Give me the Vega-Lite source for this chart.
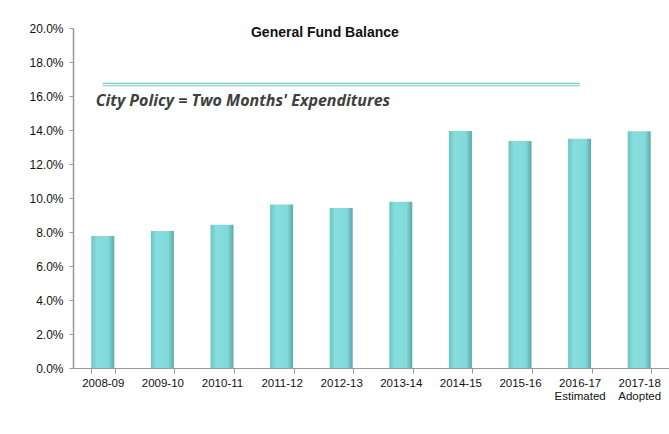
{
  "$schema": "https://vega.github.io/schema/vega-lite/v6.json",
  "width": 596,
  "height": 340,
  "autosize": "none",
  "padding": {"left": 73, "top": 28, "right": 0, "bottom": 66},
  "background": "white",
  "config": {"view": {"stroke": null}, "font": "Liberation Sans"},
  "title": {
    "text": "General Fund Balance",
    "anchor": "start",
    "dx": 222,
    "offset": -18,
    "fontSize": 14,
    "fontWeight": "bold",
    "color": "#111111",
    "font": "Liberation Sans"
  },
  "datasets": {
    "bars": [
      {"year": "2008-09", "value": 0.0776},
      {"year": "2009-10", "value": 0.0806},
      {"year": "2010-11", "value": 0.0843},
      {"year": "2011-12", "value": 0.0962},
      {"year": "2012-13", "value": 0.0941},
      {"year": "2013-14", "value": 0.0978},
      {"year": "2014-15", "value": 0.1394},
      {"year": "2015-16", "value": 0.1335},
      {"year": "2016-17 Estimated", "value": 0.1349},
      {"year": "2017-18 Adopted", "value": 0.1392}
    ],
    "policy": [
      {"start": "2008-09", "end": "2016-17 Estimated", "value": 0.1667, "label": "City Policy = Two Months' Expenditures"}
    ]
  },
  "encoding": {
    "y": {
      "field": "value",
      "type": "quantitative",
      "scale": {"domain": [0, 0.2], "nice": false},
      "axis": {
        "title": null,
        "format": ".1%",
        "values": [0, 0.02, 0.04, 0.06, 0.08, 0.1, 0.12, 0.14, 0.16, 0.18, 0.2],
        "tickCount": 11,
        "labelOverlap": false,
        "grid": false,
        "labelFontSize": 12,
        "labelColor": "#111111",
        "labelPadding": 6,
        "domainColor": "#999999",
        "domainWidth": 1.5,
        "tickColor": "#999999",
        "tickSize": 4
      }
    }
  },
  "layer": [
    {
      "data": {"name": "bars"},
      "mark": {
        "type": "bar",
        "size": 23,
        "color": {
          "gradient": "linear",
          "x1": 0, "x2": 1, "y1": 0, "y2": 0,
          "stops": [
            {"offset": 0, "color": "#6cc4c4"},
            {"offset": 0.25, "color": "#86dede"},
            {"offset": 0.75, "color": "#82d9d9"},
            {"offset": 1, "color": "#5aa9a9"}
          ]
        }
      },
      "encoding": {
        "x": {
          "field": "year",
          "type": "nominal",
          "sort": null,
          "scale": {"paddingInner": 0.6, "paddingOuter": 0.3},
          "axis": {
            "title": null,
            "labelAngle": 0,
            "labelExpr": "datum.value ? split(datum.value, ' ') : ''",
            "labelFontSize": 11.5,
            "labelColor": "#111111",
            "labelPadding": 4,
            "domainColor": "#999999",
            "tickColor": "#999999",
            "tickBand": "extent",
            "tickSize": 5
          }
        }
      }
    },
    {
      "data": {"name": "policy"},
      "mark": {"type": "rule", "stroke": "#7ccccc", "strokeWidth": 3.5},
      "encoding": {
        "x": {"field": "start", "type": "nominal", "sort": null},
        "x2": {"field": "end"}
      }
    },
    {
      "data": {"name": "policy"},
      "mark": {"type": "rule", "stroke": "#eefafa", "strokeWidth": 1.3},
      "encoding": {
        "x": {"field": "start", "type": "nominal", "sort": null},
        "x2": {"field": "end"}
      }
    },
    {
      "data": {"name": "policy"},
      "mark": {
        "type": "text",
        "align": "left",
        "baseline": "middle",
        "dx": -7,
        "dy": 16,
        "fontSize": 16,
        "fontWeight": "bold",
        "fontStyle": "italic",
        "color": "#404040",
        "font": "Open Sans"
      },
      "encoding": {
        "x": {"field": "start", "type": "nominal", "sort": null},
        "text": {"field": "label"}
      }
    }
  ]
}
